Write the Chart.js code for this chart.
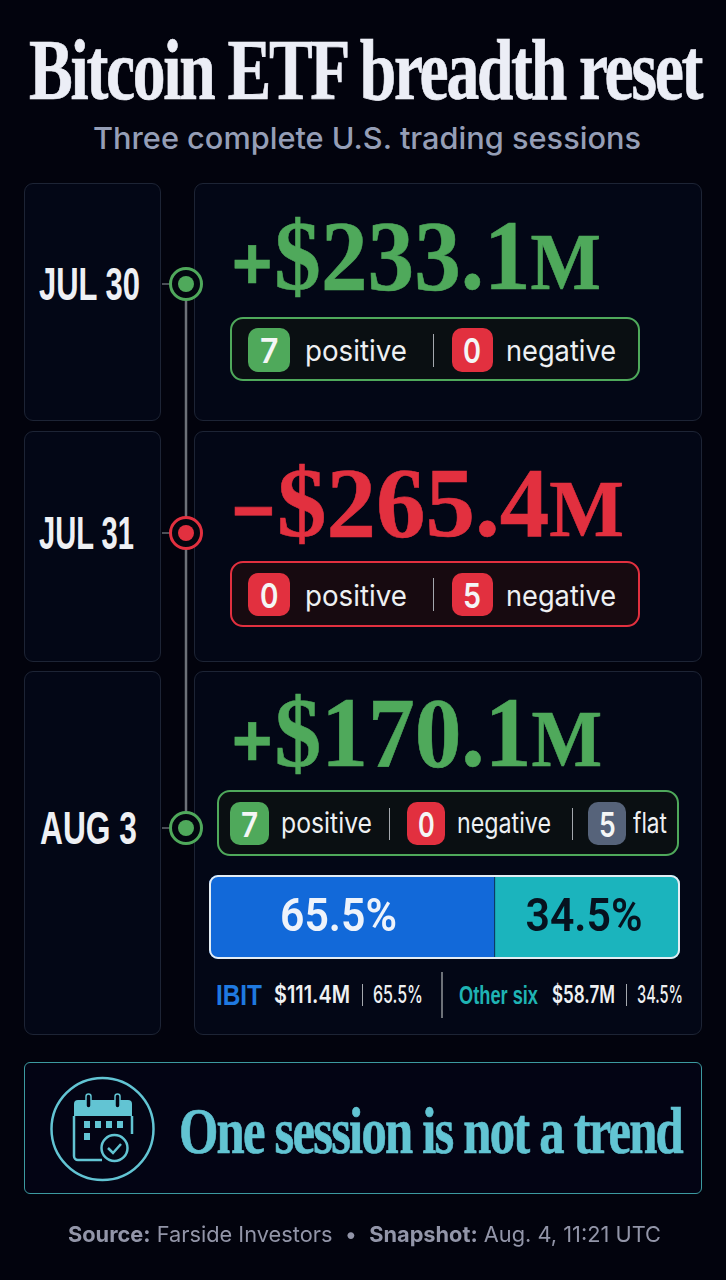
<!DOCTYPE html>
<html>
<head>
<meta charset="utf-8">
<title>Bitcoin ETF breadth reset</title>
<script src="https://cdn.jsdelivr.net/npm/chart.js@4"></script>
<style>
  html, body { margin: 0; padding: 0; background: #02030d; }
  #page { position: relative; width: 726px; height: 1280px; overflow: hidden; background: #02030d; }
  #page div, #page span { position: absolute; box-sizing: border-box; }
  .txt { white-space: nowrap; transform-origin: left center; }
  .txt b, .txt i, .txt em { position: static !important; font-style: normal; }
  .card { background: #030716; border: 1.5px solid #1d2435; border-radius: 9px; }
  svg { position: absolute; left: 0; top: 0; }
  #barWrap { left: 209px; top: 875px; width: 471px; height: 84px; border-radius: 9px; overflow: hidden; }
  #barEdge { left: 209px; top: 875px; width: 471px; height: 84px; border-radius: 9px; border: 2px solid #e4edf4; }
</style>
</head>
<body>
<div id="page"></div>
<script>
// --- data ---
const sessions = ["JUL 30", "JUL 31", "AUG 3"];
const netFlows = [233.1, -265.4, 170.1];
const positives = [7, 0, 7];
const negatives = [0, 5, 0];
const flats = [null, null, 5];
const shareNames = ["IBIT", "Other six"];
const shareValues = [65.5, 34.5];
const shareDollars = [111.4, 58.7];

const GREEN = "#4fa95b", RED = "#e2303f", SLATE = "#56637a";
const SERIF = "'Liberation Serif', serif", SANS = "Inter, 'Noto Sans', sans-serif";
const ARIAL = "'Liberation Sans', sans-serif";
const page = document.getElementById("page");

function box(cls, x0, y0, x1, y1, css) {
    const d = document.createElement("div");
    d.className = cls;
    d.style.cssText = `left:${x0}px;top:${y0}px;width:${x1 - x0}px;height:${y1 - y0}px;` + (css || "");
    page.appendChild(d);
    return d;
}

// puts text so that it runs from x0 to x1, squeezing it sideways if needed
function text(html, x0, x1, cy, size, font, weight, color, extra) {
    const s = document.createElement("div");
    s.className = "txt";
    s.innerHTML = html;
    s.style.cssText = `left:${x0}px;top:${cy - size / 2}px;line-height:${size}px;font-size:${size}px;` +
        `font-family:${font};font-weight:${weight};color:${color};` + (extra || "");
    page.appendChild(s);
    s.style.transform = `scaleX(${(x1 - x0) / s.getBoundingClientRect().width})`;
    return s;
}

function badge(n, x0, x1, y0, y1, color) {
    box("", x0, y0, x1, y1, `background:${color};border-radius:10px;`);
    const size = 34;
    const w = (x1 - x0) * 0.44;
    text(String(n), (x0 + x1) / 2 - w / 2, (x0 + x1) / 2 + w / 2, (y0 + y1) / 2 + 1, size, SANS, 600, "#f4f6f6");
}

function rule(x, y0, y1, color, w) {
    box("", x - (w || 1) / 2, y0, x + (w || 1) / 2, y1, `background:${color || "#a4a8ae"};`);
}

function flowText(v) {
    const sign = v < 0 ? "\u2212" : "+";
    return `<em style="font-family:${ARIAL};font-size:.74em;margin-right:.03em">${sign}</em>` +
        `$${Math.abs(v).toFixed(1)}<em style="font-size:.8em">M</em>`;
}

const HEAVY = "letter-spacing:-.035em;-webkit-text-stroke:.7px currentColor;";

// title
text("Bitcoin ETF breadth reset", 29, 701, 70, 86, SERIF, 700, "#eceef6", HEAVY);
text("Three complete U.S. trading sessions", 93, 641, 138, 30, SANS, 500, "#959eb6");

// cards
const rows = [[183, 421], [431, 662], [671, 1035]];
rows.forEach(r => {
    box("card", 24, r[0], 161, r[1]);
    box("card", 194, r[0], 702, r[1]);
});

// timeline
const nodeY = [284, 533, 828];
const svgNs = "http://www.w3.org/2000/svg";
let tl = `<svg xmlns="${svgNs}" width="726" height="1280">`;
tl += `<line x1="186" y1="284" x2="186" y2="828" stroke="#6d7178" stroke-width="2.5"/>`;
nodeY.forEach((y, i) => {
    const c = netFlows[i] < 0 ? RED : GREEN;
    tl += `<line x1="162" y1="${y}" x2="172" y2="${y}" stroke="#4b4f57" stroke-width="2"/>`;
    tl += `<circle cx="186" cy="${y}" r="15.5" fill="#03060f" stroke="${c}" stroke-width="3"/>`;
    tl += `<circle cx="186" cy="${y}" r="8" fill="${c}"/>`;
});
tl += `</svg>`;
const tlWrap = document.createElement("div");
tlWrap.style.cssText = "left:0;top:0;width:726px;height:1280px;";
tlWrap.innerHTML = tl;
page.appendChild(tlWrap);

// dates
text(sessions[0], 39, 140, 284, 46, ARIAL, 700, "#eef0f4");
text(sessions[1], 39, 134, 533, 46, ARIAL, 700, "#eef0f4");
text(sessions[2], 40, 137, 828, 46, ARIAL, 700, "#eef0f4");

// net flow figures
text(flowText(netFlows[0]), 232, 601, 256, 100, SERIF, 700, GREEN, "-webkit-text-stroke:.6px currentColor;");
text(flowText(netFlows[1]), 232, 624, 503, 100, SERIF, 700, RED, "-webkit-text-stroke:.6px currentColor;");
text(flowText(netFlows[2]), 232, 602, 733, 100, SERIF, 700, GREEN, "-webkit-text-stroke:.6px currentColor;");

// breadth pills
box("", 230, 317, 640, 381, `background:#0a0f12;border:2px solid ${GREEN};border-radius:13px;`);
badge(positives[0], 248, 290, 328, 372, GREEN);
text("positive", 305, 407, 350, 29, SANS, 400, "#eef0f2");
rule(433, 334, 367);
badge(negatives[0], 452, 493, 328, 372, RED);
text("negative", 506, 616, 350, 29, SANS, 400, "#eef0f2");

box("", 230, 561, 640, 627, `background:#170a10;border:2px solid ${RED};border-radius:13px;`);
badge(positives[1], 248, 290, 573, 616, RED);
text("positive", 305, 407, 595, 29, SANS, 400, "#eef0f2");
rule(433, 578, 611);
badge(negatives[1], 452, 493, 573, 616, RED);
text("negative", 506, 616, 595, 29, SANS, 400, "#eef0f2");

box("", 217, 790, 679, 856, `background:#0a0f12;border:2px solid ${GREEN};border-radius:13px;`);
badge(positives[2], 230, 269, 802, 845, GREEN);
text("positive", 281, 372, 823, 28, SANS, 400, "#eef0f2");
rule(389, 808, 840);
badge(negatives[2], 407, 445, 802, 845, RED);
text("negative", 457, 551, 823, 28, SANS, 400, "#eef0f2");
rule(572, 808, 840);
badge(flats[2], 588, 626, 802, 845, SLATE);
text("flat", 633, 667, 823, 28, SANS, 400, "#eef0f2");

// share bar
const barWrap = document.createElement("div");
barWrap.id = "barWrap";
barWrap.innerHTML = '<canvas id="shareBar" width="471" height="84"></canvas>';
page.appendChild(barWrap);
const barEdge = document.createElement("div");
barEdge.id = "barEdge";
page.appendChild(barEdge);

const shareLabelColors = ["#eef3fb", "#06121f"];
const shareLabels = {
    id: "shareLabels",
    afterDatasetsDraw(chart) {
        const ctx = chart.ctx;
        chart.data.datasets.forEach((ds, i) => {
            const el = chart.getDatasetMeta(i).data[0];
            const left = Math.max(el.base, chart.chartArea.left);
            ctx.save();
            ctx.font = "600 46px Roboto, sans-serif";
            ctx.textAlign = "center";
            ctx.textBaseline = "middle";
            ctx.fillStyle = shareLabelColors[i];
            ctx.translate((left + el.x) / 2 + (i === 0 ? -13 : -3), el.y + 2);
            ctx.scale(0.93, 1);
            ctx.fillText(ds.data[0].toFixed(1) + "%", 0, 0);
            ctx.restore();
        });
    }
};

new Chart(document.getElementById("shareBar").getContext("2d"), {
    type: "bar",
    data: {
        labels: ["Aug 3 share"],
        datasets: [
            { label: shareNames[0], data: [shareValues[0]], backgroundColor: "#1269d9", borderWidth: 0 },
            {
                label: shareNames[1], data: [shareValues[1]], backgroundColor: "#1bb4bd",
                borderColor: "#0a2a3a", borderWidth: { left: 1.5, right: 0, top: 0, bottom: 0 }, borderSkipped: false
            }
        ]
    },
    options: {
        indexAxis: "y",
        responsive: false,
        animation: false,
        layout: { padding: 0 },
        datasets: { bar: { barPercentage: 1, categoryPercentage: 1 } },
        plugins: { legend: { display: false }, tooltip: { enabled: false } },
        scales: {
            // the picture's divider sits left of true 65.5%, so the axis starts above zero to land on it
            x: { stacked: true, display: false, min: 12.66, max: 100 },
            y: { stacked: true, display: false }
        }
    },
    plugins: [shareLabels]
});

// share detail row
const detail = "#eef0f2";
text(shareNames[0], 216, 262, 995, 29, ARIAL, 700, "#1f79e0");
text("$" + shareDollars[0].toFixed(1) + "M", 274, 350, 995, 24, SANS, 600, detail);
rule(362, 984, 1006);
text(shareValues[0].toFixed(1) + "%", 373, 423, 995, 24, SANS, 500, detail);
rule(442, 972, 1018, "#6d7178", 1.5);
text(shareNames[1], 459, 538, 995, 25, ARIAL, 700, "#1fb3b3");
text("$" + shareDollars[1].toFixed(1) + "M", 552, 615, 995, 24, SANS, 600, detail);
rule(626, 984, 1006);
text(shareValues[1].toFixed(1) + "%", 637, 683, 995, 24, SANS, 500, detail);

// callout
box("", 24, 1062, 702, 1194, "background:#030414;border:1.5px solid #3c9aa0;border-radius:6px;");
const teal = "#62c4d3";
const ic = document.createElement("div");
ic.style.cssText = "left:0;top:0;width:726px;height:1280px;";
ic.innerHTML = `<svg xmlns="${svgNs}" width="726" height="1280" fill="none">
  <circle cx="102.5" cy="1129" r="51" stroke="${teal}" stroke-width="2.5"/>
  <path d="M78 1100 H128 a4 4 0 0 1 4 4 V1116 H74 V1104 a4 4 0 0 1 4 -4z" fill="${teal}"/>
  <path d="M74 1116 V1156 a4 4 0 0 0 4 4 H102 M132 1116 V1134" stroke="${teal}" stroke-width="2.5"/>
  <rect x="86" y="1094" width="5" height="14" rx="2.5" fill="#030414" stroke="${teal}" stroke-width="1.5"/>
  <rect x="115" y="1094" width="5" height="14" rx="2.5" fill="#030414" stroke="${teal}" stroke-width="1.5"/>
  <g fill="${teal}"><rect x="84" y="1121" width="6" height="7"/><rect x="95" y="1121" width="6" height="7"/>
  <rect x="106" y="1121" width="6" height="7"/><rect x="117" y="1121" width="6" height="7"/><rect x="84" y="1133" width="6" height="7"/></g>
  <circle cx="114.5" cy="1148" r="13" fill="#030414" stroke="${teal}" stroke-width="2.5"/>
  <path d="M108 1148 l5 5 l8 -9" stroke="${teal}" stroke-width="2.5"/>
</svg>`;
page.appendChild(ic);
text("One session is not a trend", 179, 682, 1131, 66, SERIF, 700, teal, HEAVY);

// footer
text('<b style="font-weight:700">Source:</b> Farside Investors &nbsp;\u2022&nbsp; <b style="font-weight:700">Snapshot:</b> Aug. 4, 11:21 UTC',
    68, 661, 1234, 22, SANS, 400, "#9295a8");
</script>
</body>
</html>
